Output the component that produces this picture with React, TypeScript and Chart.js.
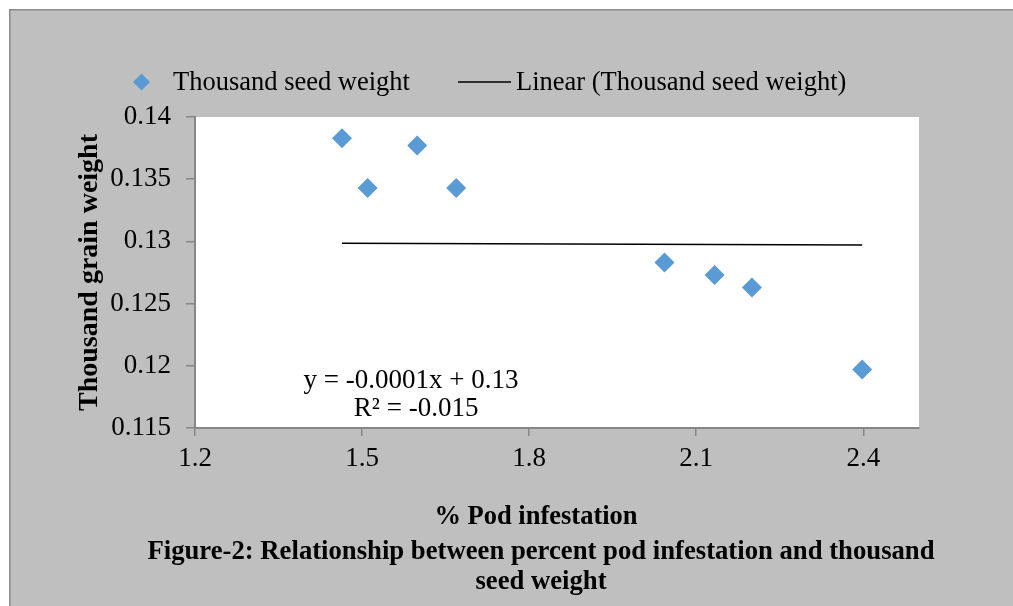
import React, { useEffect, useRef } from "react";
import { Chart, registerables } from "chart.js";

Chart.register(...registerables);

// ---- data ----
const podInfestation = [1.464, 1.51, 1.599, 1.669, 2.043, 2.133, 2.2, 2.398];
const seedWeight = [0.1383, 0.1343, 0.1377, 0.1343, 0.1283, 0.1273, 0.1263, 0.1197];
const trendX = [1.464, 2.398];
const trendY = [0.12985, 0.12972];
const xTickValues = [1.2, 1.5, 1.8, 2.1, 2.4];
const seriesName = "Thousand seed weight";
const trendName = "Linear (Thousand seed weight)";
const xTitle = "% Pod infestation";
const yTitle = "Thousand grain weight";
const captionLines = [
  "Figure-2: Relationship between percent pod infestation and thousand",
  "seed weight",
];
const equationLines = ["y = -0.0001x + 0.13", "R² = -0.015"];
const equationAnchorX = [1.588, 1.597];
const equationAnchorY = [0.11878, 0.11653];

const FONT = "'Liberation Serif', 'Times New Roman', serif";
const GRAY_BG = "#bfbfbf";
const AXIS = "#878787";
const BLUE = "#5b9bd5";

const decorPlugin = {
  id: "decor",
  beforeDraw(chart: any) {
    const { ctx, width, height, chartArea } = chart;
    ctx.save();
    ctx.fillStyle = "#ffffff";
    ctx.fillRect(0, 0, width, height);
    ctx.fillStyle = GRAY_BG;
    ctx.fillRect(9, 9, width - 9, height - 9);
    ctx.fillStyle = "#8c8c8c";
    ctx.fillRect(9, 9, width - 9, 1.5);
    ctx.fillRect(9, 9, 1.5, height - 9);
    ctx.fillStyle = "#ffffff";
    ctx.fillRect(chartArea.left, chartArea.top, chartArea.right - chartArea.left, chartArea.bottom - chartArea.top);
    ctx.restore();
  },
  afterDraw(chart: any) {
    const { ctx } = chart;
    const xs = chart.scales.x;
    const ys = chart.scales.y;
    ctx.save();
    // legend
    const ly = 82;
    ctx.fillStyle = BLUE;
    ctx.beginPath();
    const dx = 141.5, r = 8.5;
    ctx.moveTo(dx - r, ly);
    ctx.lineTo(dx, ly - r);
    ctx.lineTo(dx + r, ly);
    ctx.lineTo(dx, ly + r);
    ctx.closePath();
    ctx.fill();
    ctx.fillStyle = "#000";
    ctx.font = `26.5px ${FONT}`;
    ctx.textBaseline = "middle";
    ctx.textAlign = "left";
    ctx.fillText(chart.data.datasets[0].label, 173, ly + 1);
    ctx.strokeStyle = "#000";
    ctx.lineWidth = 1.5;
    ctx.beginPath();
    ctx.moveTo(458, ly);
    ctx.lineTo(511, ly);
    ctx.stroke();
    ctx.fillText(chart.data.datasets[1].label, 516, ly + 1);
    // equation
    ctx.textAlign = "center";
    ctx.font = `27px ${FONT}`;
    equationLines.forEach((t, i) => {
      ctx.fillText(t, xs.getPixelForValue(equationAnchorX[i]), ys.getPixelForValue(equationAnchorY[i]));
    });
    // x axis title
    ctx.font = `bold 26.5px ${FONT}`;
    ctx.fillText(xTitle, 536, 517);
    // caption
    ctx.font = `bold 26.7px ${FONT}`;
    ctx.fillText(captionLines[0], 541, 552);
    ctx.fillText(captionLines[1], 541, 582);
    ctx.restore();
  },
};

export default function App() {
  const ref = useRef<HTMLCanvasElement | null>(null);
  useEffect(() => {
    if (!ref.current) return;
    const chart = new Chart(ref.current, {
      type: "scatter",
      data: {
        datasets: [
          {
            label: seriesName,
            data: podInfestation.map((x, i) => ({ x, y: seedWeight[i] })),
            pointStyle: "rectRot",
            pointRadius: 10,
            pointHoverRadius: 10,
            backgroundColor: BLUE,
            borderColor: BLUE,
            borderWidth: 0,
            order: 2,
          },
          {
            type: "line",
            label: trendName,
            data: trendX.map((x, i) => ({ x, y: trendY[i] })),
            borderColor: "#000",
            borderWidth: 1.5,
            pointRadius: 0,
            fill: false,
            showLine: true,
            order: 1,
          } as any,
        ],
      },
      options: {
        animation: false,
        responsive: false,
        maintainAspectRatio: false,
        layout: { padding: { top: 117, right: 94, left: 0, bottom: 0 } },
        plugins: {
          legend: { display: false },
          tooltip: { enabled: false },
          title: { display: false },
        },
        scales: {
          x: {
            type: "linear",
            min: 1.2,
            max: 2.5,
            afterFit: (s: any) => { s.height = 178; },
            afterBuildTicks: (s: any) => {
              s.ticks = xTickValues.map((v) => ({ value: v }));
            },
            ticks: {
              stepSize: 0.3,
              includeBounds: false,
              color: "#000",
              font: { family: FONT, size: 27 },
              padding: 7,
              maxRotation: 0,
              callback: (v: any) => Number(v).toFixed(1),
            },
            grid: { drawOnChartArea: false, drawTicks: true, tickLength: 8, color: AXIS, lineWidth: 1.5 },
            border: { display: true, color: AXIS, width: 2 },
            title: { display: false },
          },
          y: {
            type: "linear",
            min: 0.115,
            max: 0.14,
            afterFit: (s: any) => { s.width = 195; },
            ticks: {
              stepSize: 0.005,
              color: "#000",
              font: { family: FONT, size: 27 },
              padding: 15,
              callback: (v: any) => String(parseFloat(Number(v).toFixed(3))),
            },
            grid: { drawOnChartArea: false, drawTicks: true, tickLength: 9, color: AXIS, lineWidth: 1.5 },
            border: { display: true, color: AXIS, width: 2 },
            title: {
              display: true,
              text: yTitle,
              color: "#000",
              font: { family: FONT, size: 28, weight: "bold" },
              padding: { top: 73, bottom: 0 },
            },
          },
        },
      },
      plugins: [decorPlugin],
    } as any);
    return () => chart.destroy();
  }, []);
  return (
    <div style={{ position: "absolute", left: 0, top: 0, width: 1013, height: 606 }}>
      <canvas ref={ref} width={1013} height={606} style={{ display: "block", width: 1013, height: 606 }} />
    </div>
  );
}
